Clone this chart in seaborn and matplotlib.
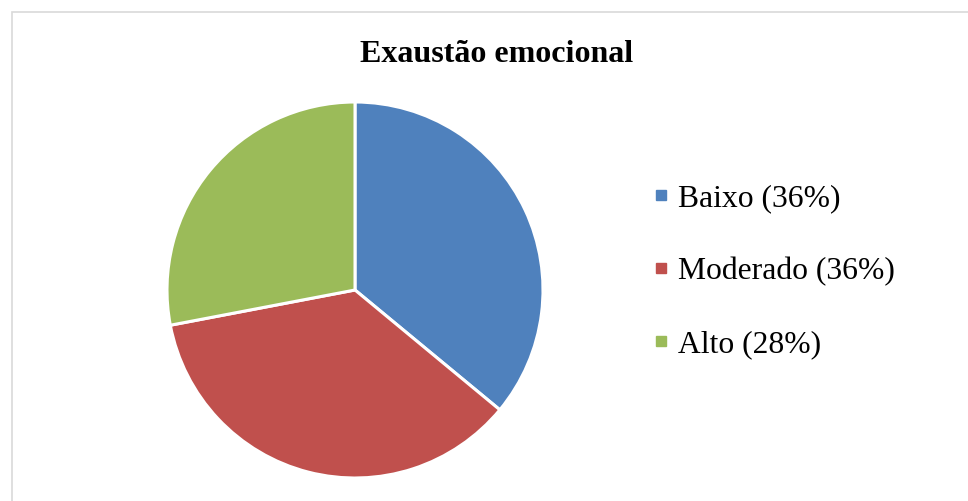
import matplotlib
matplotlib.use("Agg")
import matplotlib.pyplot as plt
import seaborn as sns
from matplotlib.lines import Line2D
from matplotlib.patches import Rectangle

categories = ["Baixo", "Moderado", "Alto"]
values = [36, 36, 28]
colors = ["#4F81BD", "#C0504D", "#9BBB59"]
title = "Exaustão emocional"

sns.set_theme(style="white")
plt.rcParams["font.family"] = ["Liberation Serif", "DejaVu Serif"]
plt.rcParams["text.color"] = "black"

W, H = 968, 501
fig = plt.figure(figsize=(W / 100, H / 100), dpi=100)
fig.patch.set_facecolor("white")

# chart border
fig.patches.append(Rectangle((11.5 / W, -0.1), 1.2, (H - 11.5) / H + 0.1,
                             transform=fig.transFigure, fill=False,
                             edgecolor="#D9D9D9", linewidth=1.2))

cx, cy, r = 355, 290, 188
ax = fig.add_axes([(cx - r) / W, (H - cy - r) / H, 2 * r / W, 2 * r / H])
wedges, _ = ax.pie(values, colors=colors, startangle=90, counterclock=False,
                   radius=1, wedgeprops=dict(edgecolor="white", linewidth=2.2,
                                             clip_on=False))
ax.set_xlim(-1.0, 1.0)
ax.set_ylim(-1.0, 1.0)
ax.set_aspect("equal")
ax.axis("off")

fig.text(497 / W, 1 - 54 / H, title, ha="center", va="center",
         fontsize=23, fontweight="bold", color="black")

labels = [f"{c} ({v}%)" for c, v in zip(categories, values)]
handles = [Line2D([0], [0], marker="s", linestyle="none", markersize=7,
                  markerfacecolor=col, markeredgecolor=col) for col in colors]
leg = fig.legend(handles, labels, loc="upper left",
                 bbox_to_anchor=(653 / W, 1 - 184 / H), frameon=False,
                 fontsize=22.8, handlelength=0.5, handletextpad=0.3,
                 labelspacing=1.38, borderpad=0, borderaxespad=0)
for t in leg.get_texts():
    t.set_color("black")

fig.savefig("out.png", dpi=100, facecolor="white")
